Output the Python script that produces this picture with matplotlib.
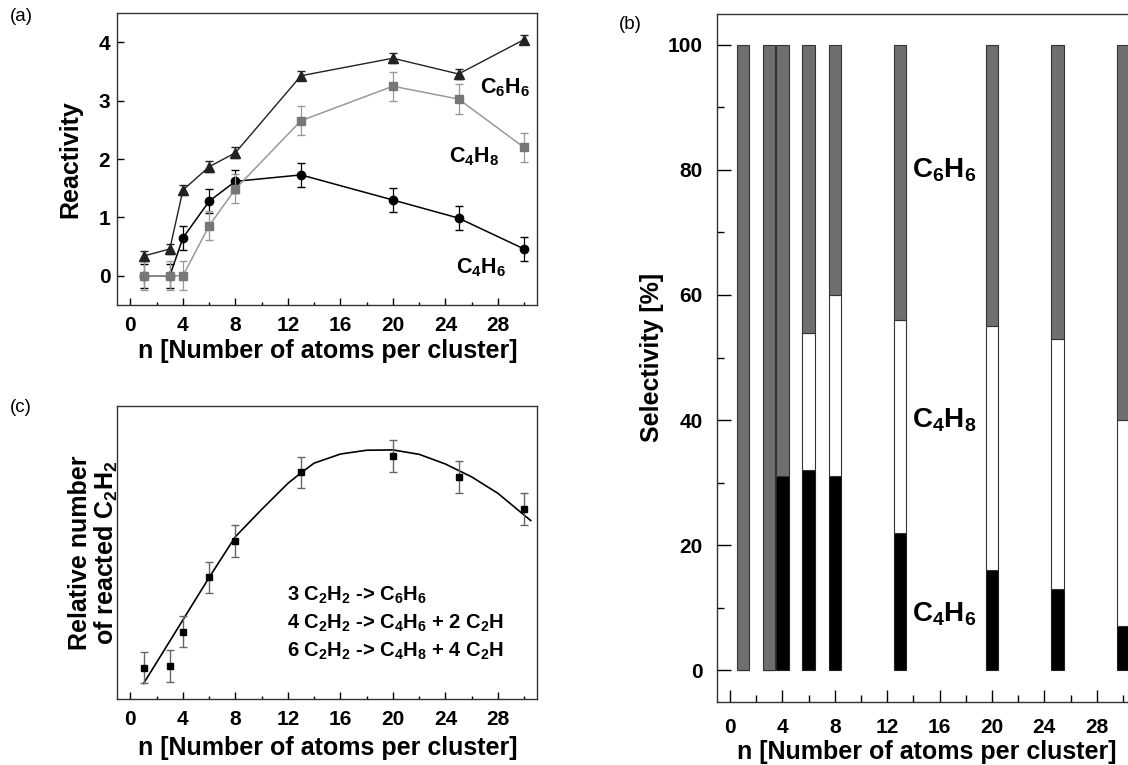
import matplotlib
matplotlib.use("Agg")
import matplotlib.pyplot as plt
from matplotlib.ticker import MultipleLocator, NullLocator

plt.rcParams['font.family'] = ['Liberation Sans', 'DejaVu Sans']
plt.rcParams['mathtext.fontset'] = 'custom'
plt.rcParams['mathtext.rm'] = 'Liberation Sans:bold'
plt.rcParams['mathtext.it'] = 'Liberation Sans:bold'
plt.rcParams['mathtext.bf'] = 'Liberation Sans:bold'
plt.rcParams['mathtext.default'] = 'rm'

# --- panel (a): reactivity vs cluster size
n_atoms = [1, 3, 4, 6, 8, 13, 20, 25, 30]
react_c6h6 = [0.34, 0.46, 1.47, 1.87, 2.11, 3.43, 3.73, 3.46, 4.05]
err_c6h6 = [0.08, 0.08, 0.08, 0.09, 0.09, 0.08, 0.09, 0.08, 0.07]
react_c4h8 = [0.0, 0.0, 0.0, 0.86, 1.49, 2.66, 3.25, 3.03, 2.20]
err_c4h8 = [0.25, 0.25, 0.25, 0.25, 0.25, 0.25, 0.25, 0.25, 0.25]
react_c4h6 = [0.0, 0.0, 0.65, 1.28, 1.62, 1.73, 1.30, 0.99, 0.46]
err_c4h6 = [0.2, 0.2, 0.2, 0.2, 0.2, 0.2, 0.2, 0.2, 0.2]

# --- panel (b): selectivity [%]
sel_c4h6 = [0, 0, 31, 32, 31, 22, 16, 13, 7]
sel_c4h8 = [0, 0, 0, 22, 29, 34, 39, 40, 33]
sel_c6h6 = [100, 100, 69, 46, 40, 44, 45, 47, 60]

# --- panel (c): relative number of reacted C2H2 (arb. units)
rel_c2h2 = [0.107, 0.113, 0.230, 0.415, 0.539, 0.773, 0.830, 0.758, 0.648]
err_c2h2 = [0.054, 0.054, 0.054, 0.054, 0.054, 0.054, 0.054, 0.054, 0.054]
fit_n = [1, 2, 4, 6, 8, 10, 12, 13, 14, 16, 18, 20, 22, 24, 26, 28, 30.5]
fit_rel = [0.053, 0.125, 0.27, 0.415, 0.554, 0.647, 0.736, 0.772, 0.805,
           0.836, 0.849, 0.85, 0.835, 0.802, 0.758, 0.702, 0.609]

xlabel = "n [Number of atoms per cluster]"
bold = dict(fontweight='bold')
TICK_FS = 15
LABEL_FS = 18

fig = plt.figure(figsize=(11.28, 7.65), dpi=100)
ax_a = fig.add_axes([0.104, 0.6013, 0.3723, 0.3813])
ax_c = fig.add_axes([0.104, 0.0863, 0.3723, 0.383])
ax_b = fig.add_axes([0.6355, 0.083, 0.3716, 0.8993])


def style_x(ax, major_len, minor_len, pad, labelpad):
    ax.set_xlim(-1, 31)
    ax.xaxis.set_major_locator(MultipleLocator(4))
    ax.xaxis.set_minor_locator(MultipleLocator(2))
    ax.tick_params(axis='x', which='major', direction='in', length=major_len,
                   width=1, labelsize=TICK_FS, pad=pad, top=False)
    ax.tick_params(axis='x', which='minor', direction='in', length=minor_len,
                   width=1, top=False)
    for lab in ax.get_xticklabels():
        lab.set_fontweight('bold')
    ax.set_xlabel(xlabel, fontsize=LABEL_FS, labelpad=labelpad, **bold)
    for s in ax.spines.values():
        s.set_linewidth(1.0)
        s.set_color('#333333')


# panel (a)
ax_a.errorbar(n_atoms, react_c4h6, yerr=err_c4h6, color='black', marker='o',
              ms=6, lw=1.1, capsize=3, elinewidth=0.9, zorder=2)
ax_a.errorbar(n_atoms, react_c4h8, yerr=err_c4h8, color='#999999', marker='s',
              ms=5.5, mfc='#777777', mec='#777777', lw=1.1, capsize=3,
              elinewidth=0.9, zorder=3)
ax_a.errorbar(n_atoms, react_c6h6, yerr=err_c6h6, color='#222222', marker='^',
              ms=6.5, lw=1.0, capsize=3, elinewidth=0.9, zorder=4)
ax_a.set_ylim(-0.5, 4.5)
ax_a.yaxis.set_major_locator(MultipleLocator(1))
ax_a.tick_params(axis='y', direction='in', length=5, width=1,
                 labelsize=TICK_FS, pad=5, right=False)
for lab in ax_a.get_yticklabels():
    lab.set_fontweight('bold')
style_x(ax_a, 5, 2.5, 8, 3)
ax_a.set_ylabel("Reactivity", fontsize=LABEL_FS, labelpad=12, **bold)
ax_a.text(26.6, 3.22, "C$_6$H$_6$", fontsize=15.5, va='center', **bold)
ax_a.text(24.3, 2.04, "C$_4$H$_8$", fontsize=15.5, va='center', **bold)
ax_a.text(24.8, 0.14, "C$_4$H$_6$", fontsize=15.5, va='center', **bold)

# panel (c)
ax_c.plot(fit_n, fit_rel, color='black', lw=1.2, zorder=2)
ax_c.errorbar(n_atoms, rel_c2h2, yerr=err_c2h2, fmt='s', color='black', ms=5,
              ecolor='#666666', elinewidth=1.0, capsize=3, zorder=3)
ax_c.set_ylim(0, 1)
ax_c.yaxis.set_major_locator(NullLocator())
style_x(ax_c, 5, 2.5, 8, 5)
ax_c.set_ylabel("Relative number\nof reacted C$_2$H$_2$", fontsize=LABEL_FS,
                labelpad=-2, linespacing=1.05, **bold)
reactions = ["3 C$_2$H$_2$ -> C$_6$H$_6$",
             "4 C$_2$H$_2$ -> C$_4$H$_6$ + 2 C$_2$H",
             "6 C$_2$H$_2$ -> C$_4$H$_8$ + 4 C$_2$H"]
for i, r in enumerate(reactions):
    ax_c.text(11.9, 0.355 - i * 0.097, r, fontsize=14.5, va='center', **bold)

# panel (b)
width = 0.95
ax_b.bar(n_atoms, sel_c4h6, width, color='black', edgecolor='#222222', lw=0.8)
ax_b.bar(n_atoms, sel_c4h8, width, bottom=sel_c4h6, color='white',
         edgecolor='#333333', lw=0.8)
bottom_c6 = [a + b for a, b in zip(sel_c4h6, sel_c4h8)]
ax_b.bar(n_atoms, sel_c6h6, width, bottom=bottom_c6, color='#6f6f6f',
         edgecolor='#333333', lw=0.8)
ax_b.set_ylim(-5, 105)
ax_b.yaxis.set_major_locator(MultipleLocator(20))
ax_b.yaxis.set_minor_locator(MultipleLocator(10))
ax_b.tick_params(axis='y', which='major', direction='in', length=10, width=1,
                 labelsize=TICK_FS, pad=10, right=False)
ax_b.tick_params(axis='y', which='minor', direction='in', length=5, width=1,
                 right=False)
for lab in ax_b.get_yticklabels():
    lab.set_fontweight('bold')
style_x(ax_b, 9, 4.8, 12, 2)
ax_b.set_ylabel("Selectivity [%]", fontsize=LABEL_FS, labelpad=3, **bold)
ax_b.text(13.9, 80, "C$_6$H$_6$", fontsize=20, va='center', **bold)
ax_b.text(13.9, 40, "C$_4$H$_8$", fontsize=20, va='center', **bold)
ax_b.text(13.9, 9, "C$_4$H$_6$", fontsize=20, va='center', **bold)

# panel letters
fig.text(0.009, 0.973, "(a)", fontsize=13.5)
fig.text(0.009, 0.462, "(c)", fontsize=13.5)
fig.text(0.549, 0.962, "(b)", fontsize=13.5)

plt.savefig("out.png", dpi=100)
